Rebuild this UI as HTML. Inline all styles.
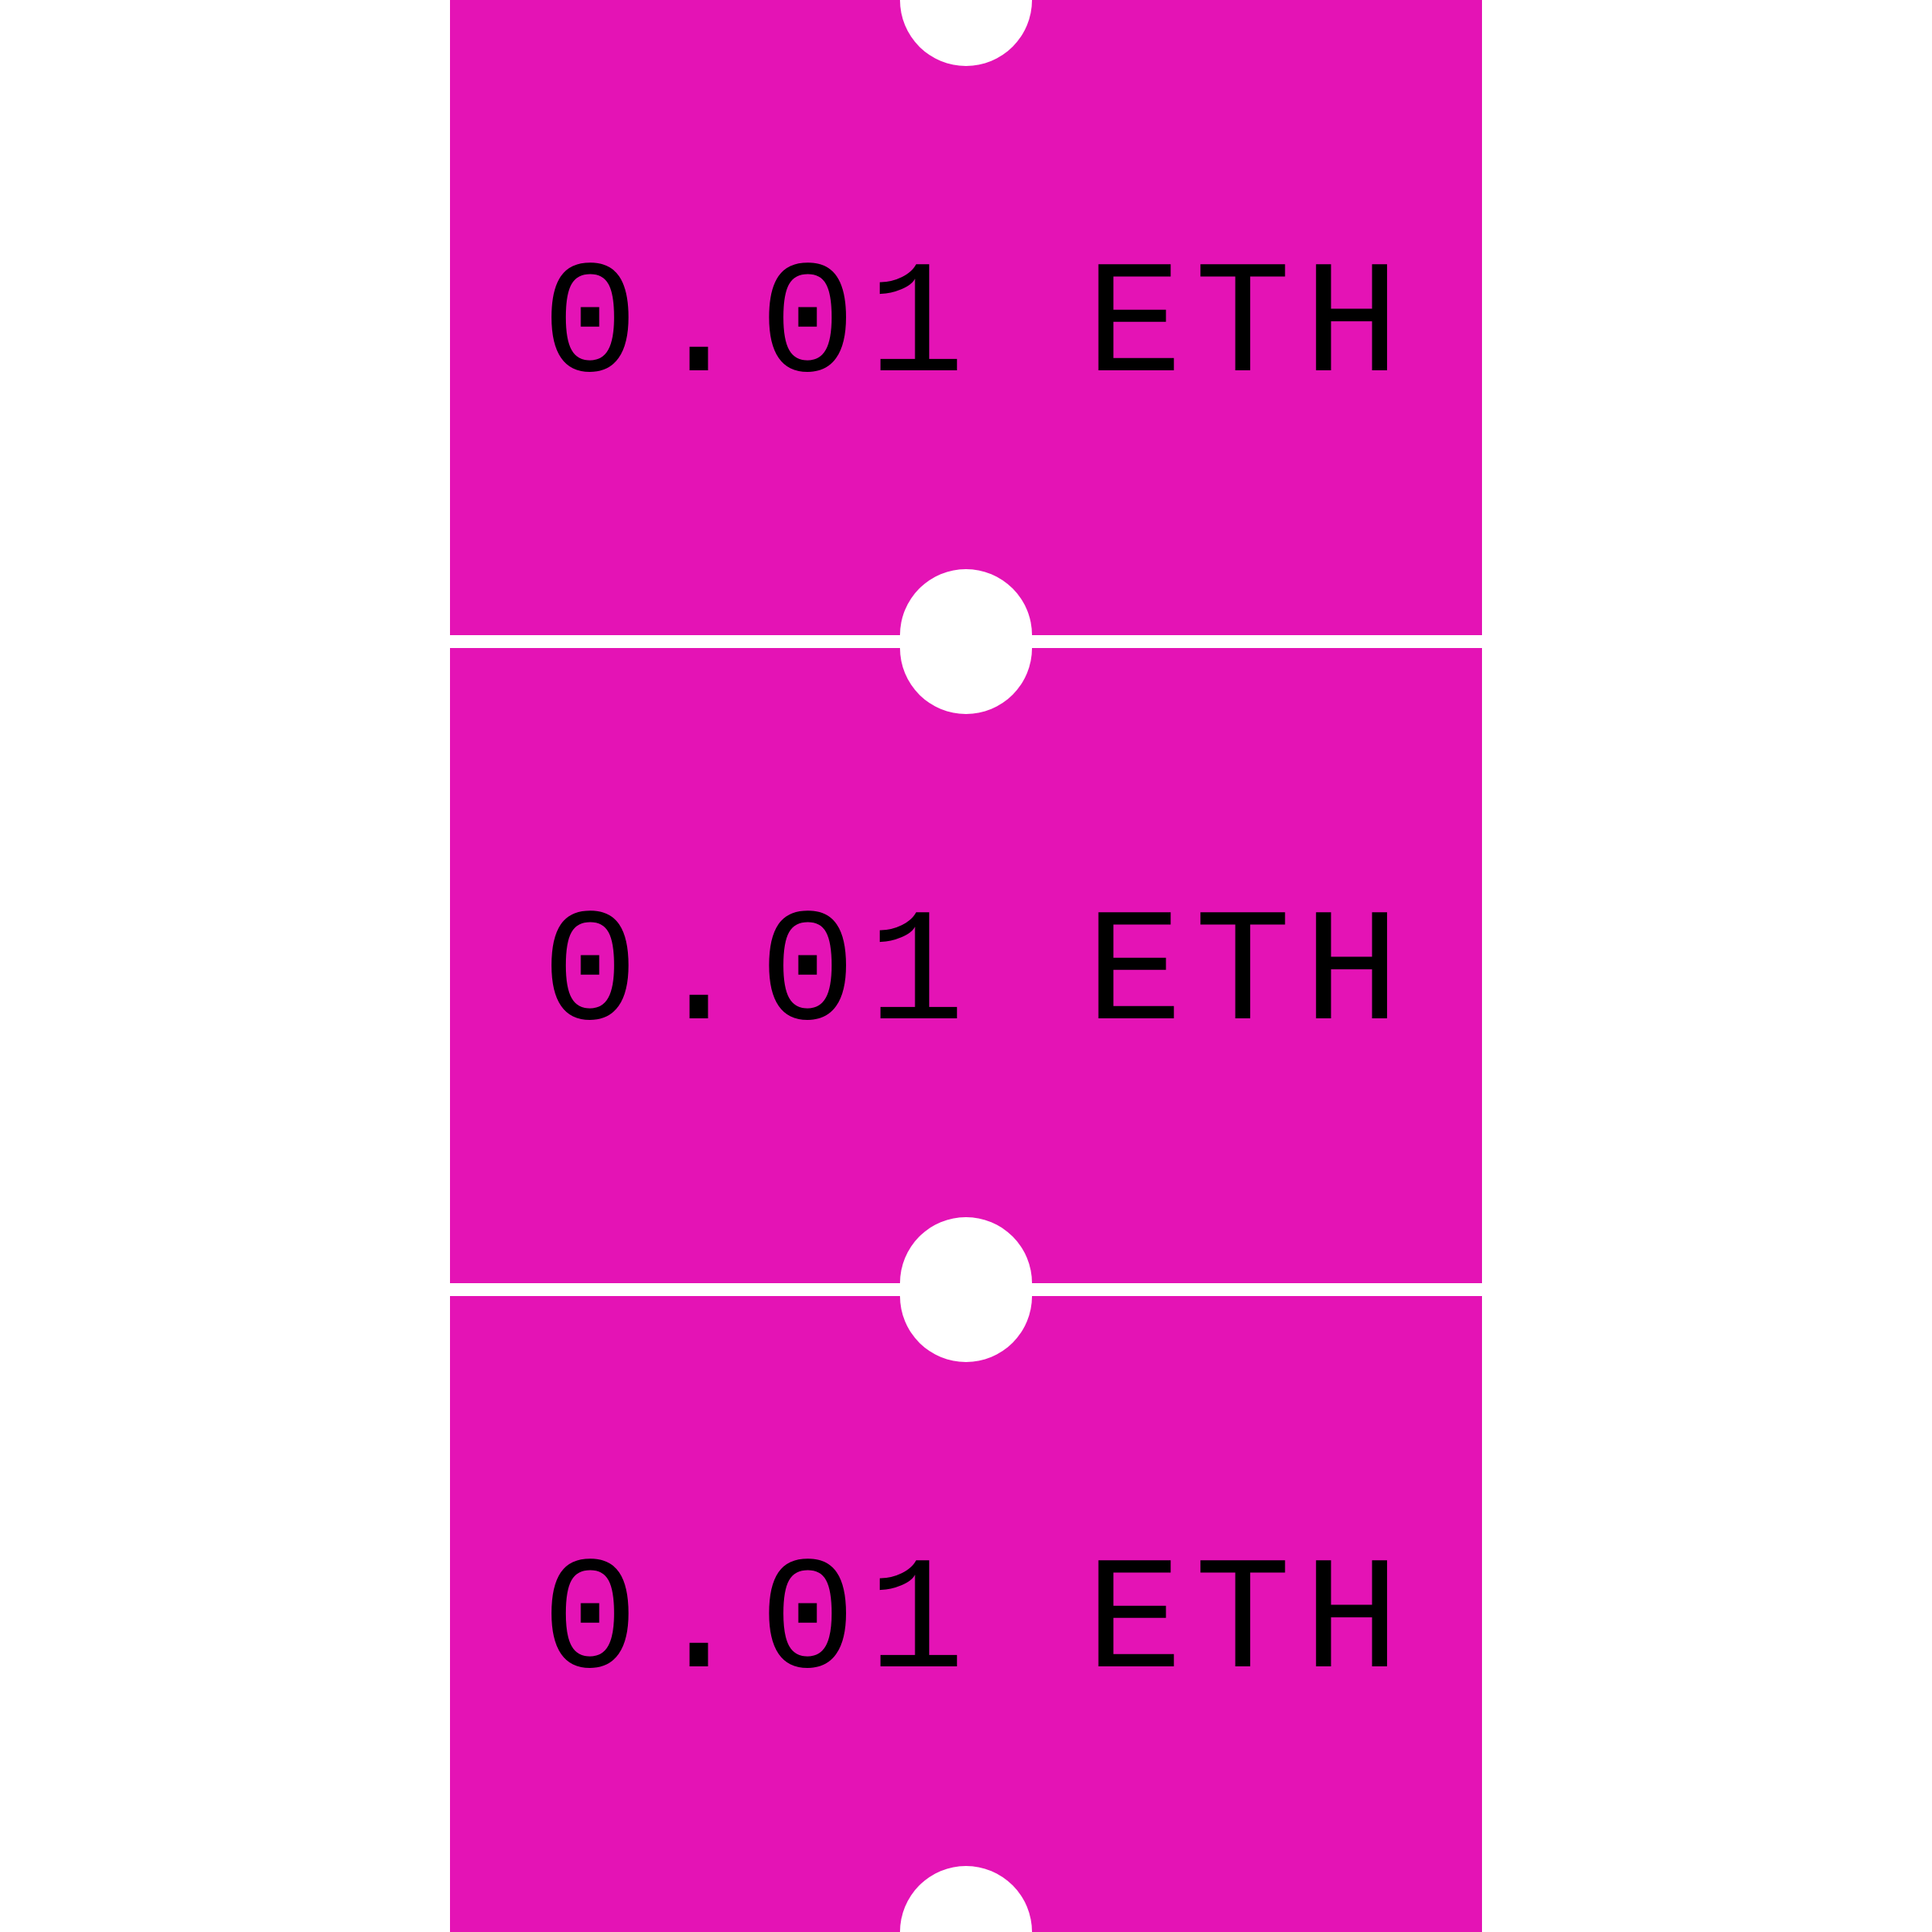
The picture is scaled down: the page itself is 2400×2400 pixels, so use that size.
<!DOCTYPE html>
<html>
<head>
<meta charset="utf-8">
<style>
html,body{margin:0;padding:0;background:#fff;}
svg{display:block;}
text{font-family:"Liberation Mono","DejaVu Sans Mono",monospace;font-size:200px;fill:#000;}
</style>
</head>
<body>
<svg width="2400" height="2400" viewBox="0 0 2400 2400" xmlns="http://www.w3.org/2000/svg">
  <rect x="0" y="0" width="2400" height="2400" fill="#fff"/>
  <g>
    <rect x="559" y="0" width="1282" height="789" fill="#e413b5"/>
    <text x="673" y="460" textLength="1066" lengthAdjust="spacing">0.01 ETH</text>
  </g>
  <g>
    <rect x="559" y="805" width="1282" height="789" fill="#e413b5"/>
    <text x="673" y="1265" textLength="1066" lengthAdjust="spacing">0.01 ETH</text>
  </g>
  <g>
    <rect x="559" y="1610" width="1282" height="790" fill="#e413b5"/>
    <text x="673" y="2070" textLength="1066" lengthAdjust="spacing">0.01 ETH</text>
  </g>
  <g fill="#fff">
    <circle cx="1200" cy="0" r="82"/>
    <circle cx="1200" cy="789" r="82"/>
    <circle cx="1200" cy="805" r="82"/>
    <rect x="1118" y="789" width="164" height="16"/>
    <circle cx="1200" cy="1594" r="82"/>
    <circle cx="1200" cy="1610" r="82"/>
    <rect x="1118" y="1594" width="164" height="16"/>
    <circle cx="1200" cy="2400" r="82"/>
  </g>
</svg>
</body>
</html>
